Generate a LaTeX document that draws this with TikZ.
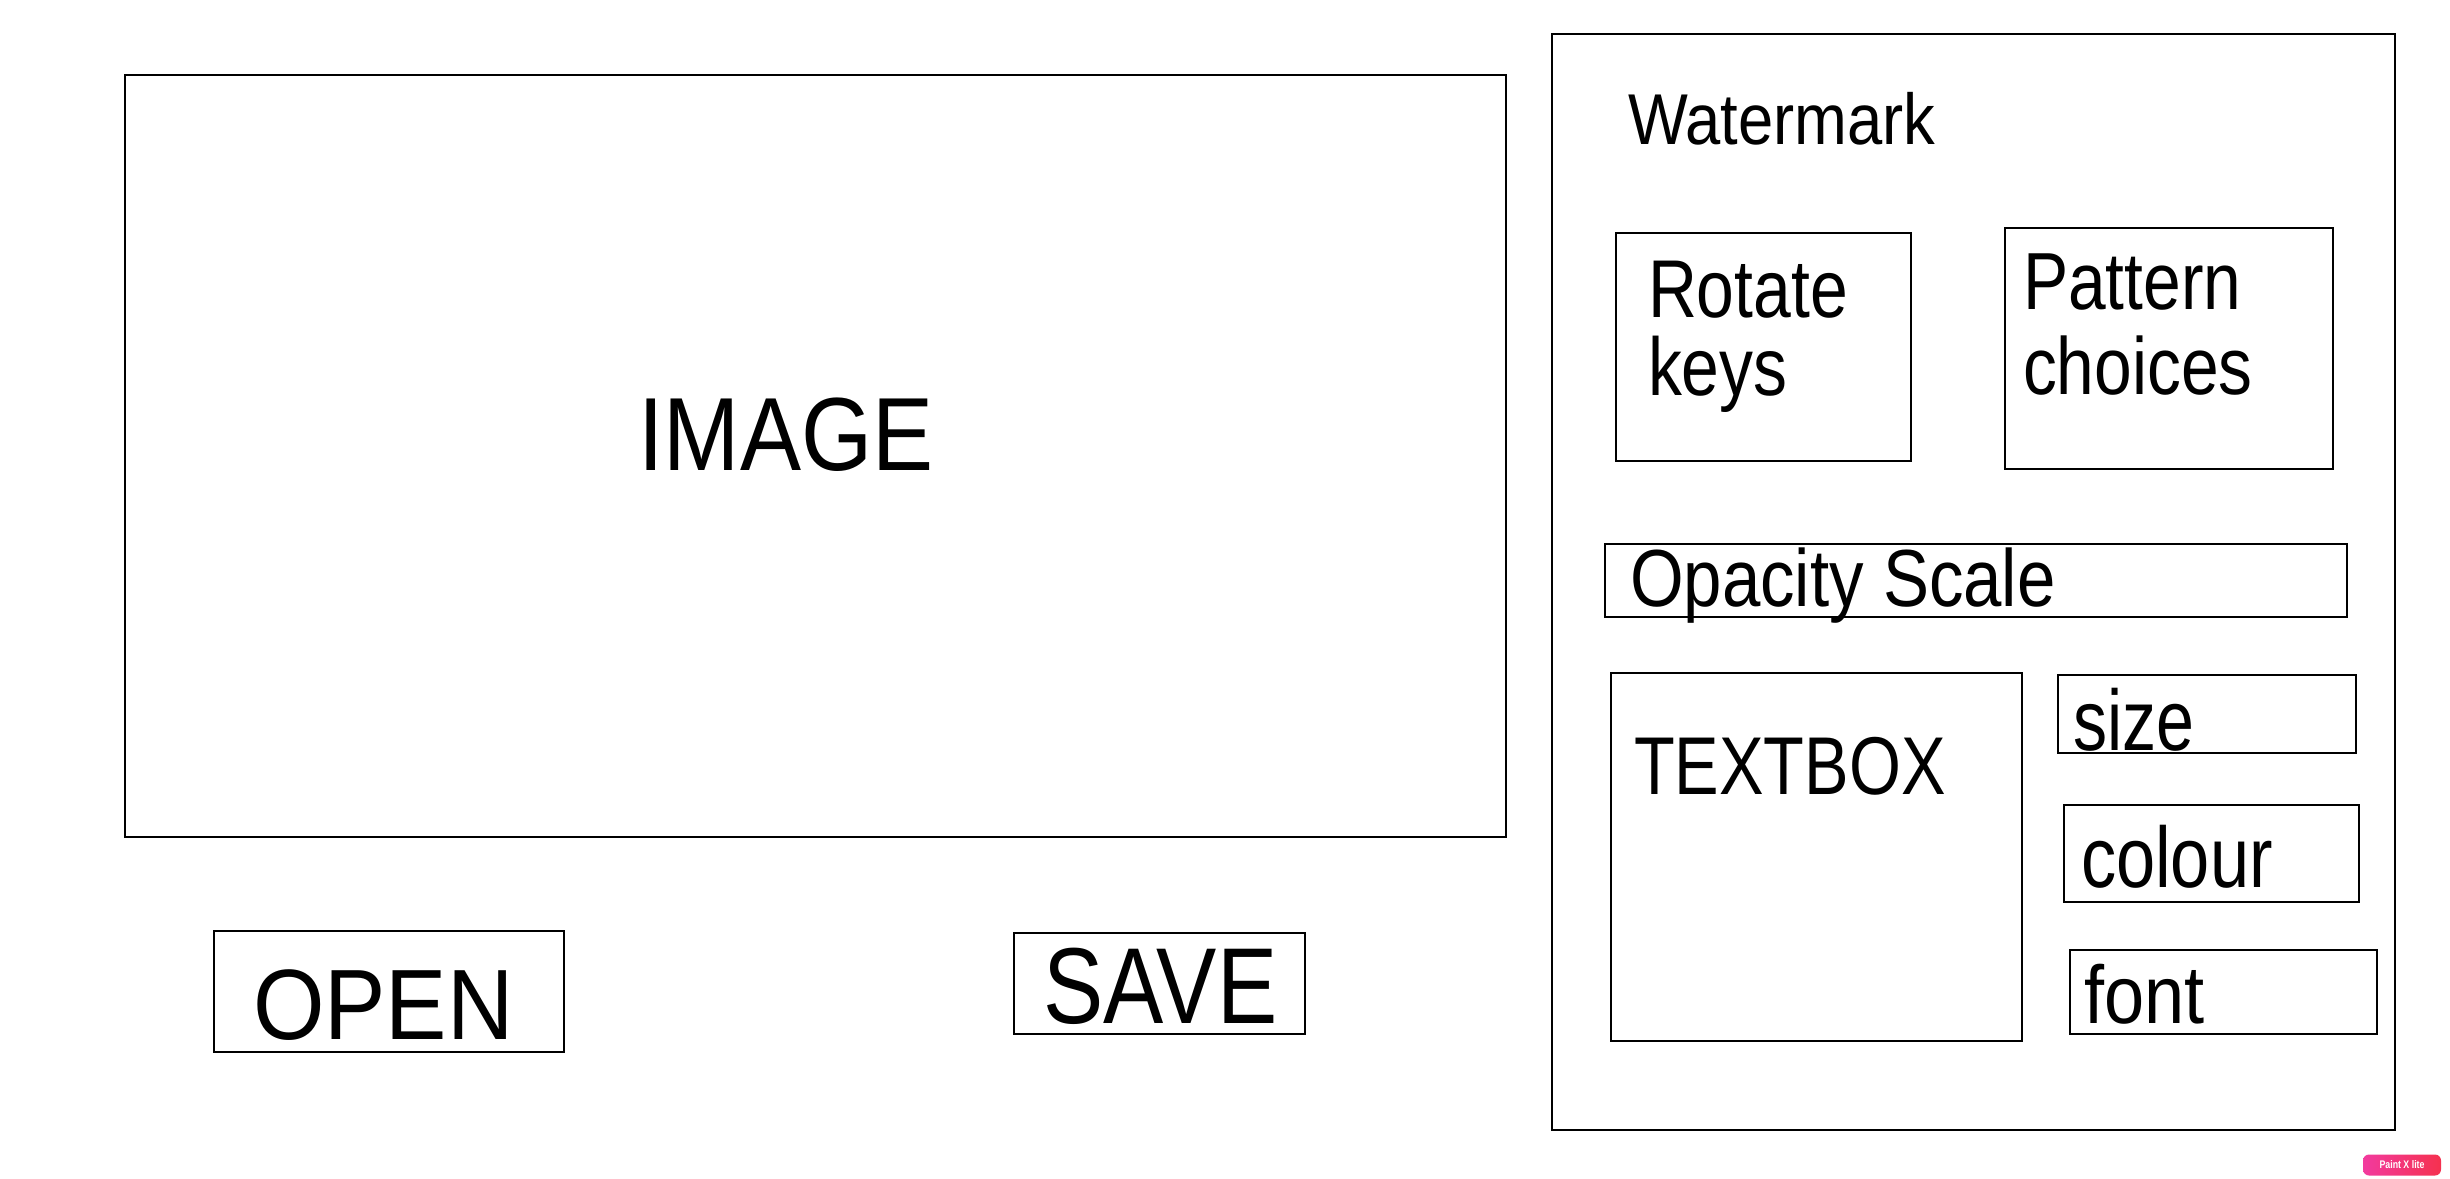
\documentclass[tikz,border=0pt]{standalone}
\usepackage{fontspec}
\usepackage{graphicx}
\setmainfont{Liberation Sans}[FakeStretch=0.88]
\newfontfamily\badgefont{Liberation Sans Bold}[FakeStretch=0.8]
\definecolor{badgeL}{HTML}{F23A9E}
\definecolor{badgeR}{HTML}{F5314F}
\newcommand\fsz[1]{\fontsize{#1pt}{#1pt}\selectfont}
\newcommand\hsc[2]{\scalebox{#1}[1]{#2}}
\newcommand\uibox[5]{\node[uibox, anchor=north west, minimum width=(#4-#2)*0.5pt, minimum height=(#5-#3)*0.5pt] (#1) at (#2,#3) {};}
\tikzset{
  uibox/.style={draw=black, line width=1pt, inner sep=0pt, outer sep=0pt, rectangle},
  lbl/.style={inner sep=0pt, outer sep=0pt, anchor=base west, text=black},
}
\begin{document}
\begin{tikzpicture}[x=0.5pt,y=-0.5pt]
\useasboundingbox[fill=white] (0,0) rectangle (2450,1178);
% boxes
\uibox{img}{125}{75}{1506}{837}
\uibox{open}{214}{931}{564}{1052}
\uibox{save}{1014}{933}{1305}{1034}
\uibox{panel}{1552}{34}{2395}{1130}
\uibox{rotate}{1616}{233}{1911}{461}
\uibox{pattern}{2005}{228}{2333}{469}
\uibox{opacity}{1605}{544}{2347}{617}
\uibox{textbox}{1611}{673}{2022}{1041}
\uibox{size}{2058}{675}{2356}{753}
\uibox{colour}{2064}{805}{2359}{902}
\uibox{font}{2070}{950}{2377}{1034}
% labels
\node[lbl, anchor=base] (imgT) at (786,470) {\fsz{52}IMAGE};
\node[lbl] (openT) at (253,1039) {\fsz{50}\hsc{1.045}{OPEN}};
\node[lbl] (saveT) at (1043,1023) {\fsz{54}\hsc{0.95}{SAVE}};
\node[lbl] (wmT) at (1628,144) {\fsz{36}Watermark};
\node[lbl] (rotT1) at (1648,317) {\fsz{41}\hsc{0.94}{Rotate}};
\node[lbl] (rotT2) at (1648,395) {\fsz{41}\hsc{0.94}{keys}};
\node[lbl] (patT1) at (2023,309) {\fsz{40.5}\hsc{0.95}{Pattern}};
\node[lbl] (patT2) at (2023,394) {\fsz{40.5}\hsc{0.95}{choices}};
\node[lbl] (opaT) at (1630,606) {\fsz{40.5}\hsc{0.968}{Opacity Scale}};
\node[lbl] (tbT) at (1634,794) {\fsz{41}\hsc{0.925}{TEXTBOX}};
\node[lbl] (sizeT) at (2073,750) {\fsz{43}\hsc{0.9}{size}};
\node[lbl] (colT) at (2081,887) {\fsz{43}\hsc{0.93}{colour}};
\node[lbl] (fontT) at (2084,1023) {\fsz{41}font};
% badge
\node[rounded corners=3pt, left color=badgeL, right color=badgeR, minimum width=39pt, minimum height=10.5pt, inner sep=0pt, text=white] (badge) at (2402,1165) {\badgefont\fsz{5.5}Paint X lite};
\end{tikzpicture}
\end{document}
